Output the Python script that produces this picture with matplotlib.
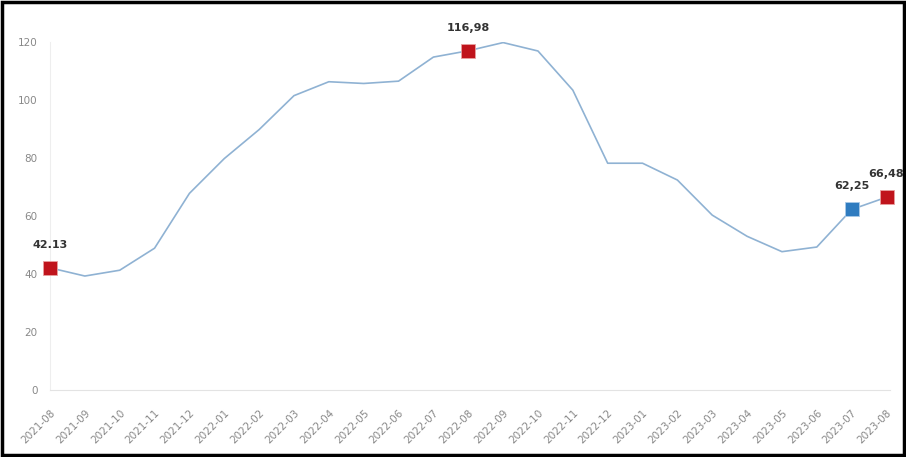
import matplotlib
matplotlib.use("Agg")
import matplotlib.pyplot as plt
from matplotlib.patches import Rectangle

months = ["2021-08", "2021-09", "2021-10", "2021-11", "2021-12",
          "2022-01", "2022-02", "2022-03", "2022-04", "2022-05", "2022-06",
          "2022-07", "2022-08", "2022-09", "2022-10", "2022-11", "2022-12",
          "2023-01", "2023-02", "2023-03", "2023-04", "2023-05", "2023-06",
          "2023-07", "2023-08"]
values = [42.13, 39.3, 41.3, 48.9, 67.8, 79.8, 89.8, 101.5, 106.3, 105.7,
          106.5, 114.8, 116.98, 119.8, 116.9, 103.4, 78.2, 78.2, 72.4,
          60.3, 53.0, 47.7, 49.3, 62.25, 66.48]
red_idx = [0, 12, 24]
blue_idx = [23]
labels = {0: "42.13", 12: "116,98", 23: "62,25", 24: "66,48"}
yticks = [0, 20, 40, 60, 80, 100, 120]

fig = plt.figure(figsize=(9.06, 4.57), dpi=100)
ax = fig.add_axes([50/906, 1-390/457, 840/906, 348/457])
x = list(range(len(months)))
ax.plot(x, values, color="#8fb2d3", lw=1.2, zorder=2)
ax.scatter([x[i] for i in red_idx], [values[i] for i in red_idx], marker="s",
           s=110, color="#c0141c", zorder=3, edgecolors="#e8a0a0", linewidths=0.6,
           clip_on=False)
ax.scatter([x[i] for i in blue_idx], [values[i] for i in blue_idx], marker="s",
           s=110, color="#2f7cc0", zorder=3, edgecolors="#a9c9e8", linewidths=0.6,
           clip_on=False)
for i, t in labels.items():
    ax.annotate(t, (x[i], values[i]), xytext=(0, 13), textcoords="offset points",
                ha="center", va="bottom", fontsize=8, fontweight="bold",
                color="#333333", annotation_clip=False)

ax.set_xlim(0, 24.1)
ax.set_ylim(0, 120)
ax.set_yticks(yticks)
ax.set_yticklabels([str(v) for v in yticks], fontsize=7.5, color="#888888")
ax.set_xticks(x)
ax.set_xticklabels(months, rotation=45, ha="right", rotation_mode="anchor",
                   fontsize=7.5, color="#888888")
ax.tick_params(axis="y", length=0, pad=9)
ax.tick_params(axis="x", length=0, pad=13)
for s in ["top", "right"]:
    ax.spines[s].set_visible(False)
ax.spines["left"].set_color("#eeeeee")
ax.spines["bottom"].set_color("#e3e3e3")
ax.spines["left"].set_linewidth(0.8)
ax.spines["bottom"].set_linewidth(0.8)

fig.patches.append(Rectangle((0.002, 0.004), 0.996, 0.992, transform=fig.transFigure,
                             fill=False, edgecolor="black", lw=2.5))
fig.savefig("out.png", dpi=100)
